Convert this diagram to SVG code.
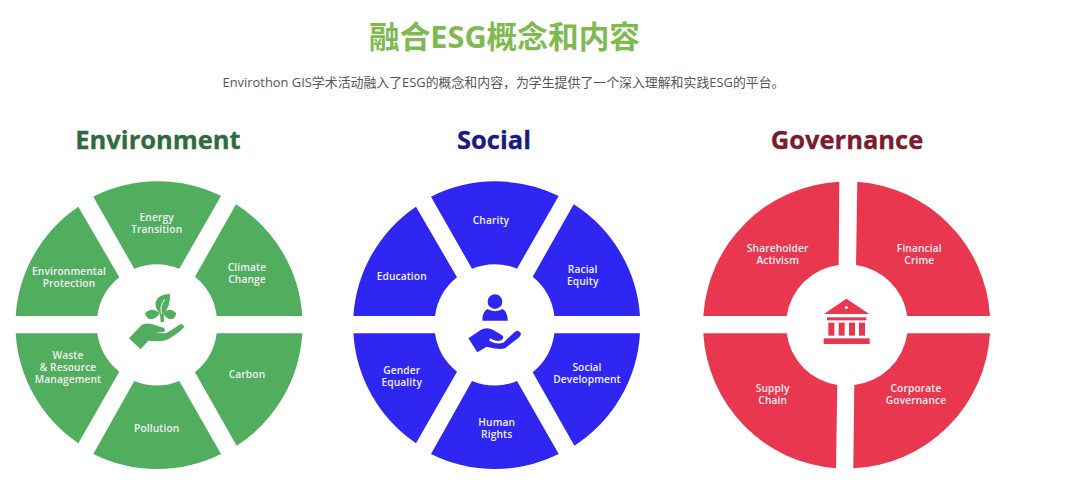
<svg xmlns="http://www.w3.org/2000/svg" width="1080" height="495" viewBox="0 0 1080 495">
<style>
.t{font-family:"Open Sans","Noto Sans CJK SC",sans-serif;text-anchor:middle}
.h{font-family:"Open Sans",sans-serif;font-weight:700;font-size:25.5px;text-anchor:middle;stroke-width:.3px}
.l{font-family:"Open Sans",sans-serif;font-weight:600;font-size:10.2px;text-anchor:middle;fill:#f0f0f4;letter-spacing:.12px}
.g path,.g rect{fill:#52ae5f}
.s path,.s circle.f{fill:#2f26f2}
.r path,.r rect{fill:#e8374f}
.g path.v{fill:none;stroke:#fff;stroke-width:3}
</style>
<defs>
<path id="p-top" d="M-65.7-128.3A143.5 143.5 0 0 1 62-129L20.3-56.3A60 60 0 0 0-24.7-56.3Z"/>
<path id="p-ur" d="M77-120.7A143.5 143.5 0 0 1 143.3-9H57.7A60 60 0 0 0 36-48.3Z"/>
<path id="p-lr" d="M143.3 8.3A143.5 143.5 0 0 1 77.7 120.7L36 47.3A60 60 0 0 0 57.7 8.3Z"/>
<path id="p-bot" d="M62 129A143.5 143.5 0 0 1-65.7 129L-24.7 56A60 60 0 0 0 20.3 56Z"/>
<path id="p-ll" d="M-80.7 118.3A143.5 143.5 0 0 1-143.3 8.3H-61.7A60 60 0 0 0-39.7 46.7Z"/>
<path id="p-ul" d="M-143.3-9A143.5 143.5 0 0 1-80.7-118.3L-39.7-47.7A60 60 0 0 0-61.7-9Z"/>
</defs>
<g id="header">
<text class="t" x="504.500" y="48" font-size="30.700" font-weight="700" fill="#7fba50">融合ESG概念和内容</text>
<text class="t" x="503.500" y="87" font-size="12.900" fill="#555">Envirothon GIS学术活动融入了ESG的概念和内容，为学生提供了一个深入理解和实践ESG的平台。</text>
</g>
<g id="connectors"/>
<g id="environment" class="g">
<text id="env-title" class="h" x="158" y="149" fill="#2f6b3f" stroke="#2f6b3f">Environment</text>
<g id="env-energy"><use href="#p-top" x="159" y="325" fill="#52ae5f"/><text class="l" y="220.700"><tspan x="156.700">Energy</tspan><tspan x="156.700" dy="12">Transition</tspan></text></g>
<g id="env-climate"><use href="#p-ur" x="159" y="325" fill="#52ae5f"/><text class="l" y="271"><tspan x="247">Climate</tspan><tspan x="247" dy="12">Change</tspan></text></g>
<g id="env-carbon"><use href="#p-lr" x="159" y="325" fill="#52ae5f"/><text class="l" x="247" y="378">Carbon</text></g>
<g id="env-pollution"><use href="#p-bot" x="159" y="325" fill="#52ae5f"/><text class="l" x="156.700" y="432">Pollution</text></g>
<g id="env-waste"><use href="#p-ll" x="159" y="325" fill="#52ae5f"/><text class="l" y="359"><tspan x="68">Waste</tspan><tspan x="68" dy="12">&amp; Resource</tspan><tspan x="68" dy="12">Management</tspan></text></g>
<g id="env-protection"><use href="#p-ul" x="159" y="325" fill="#52ae5f"/><text class="l" y="275"><tspan x="69">Environmental</tspan><tspan x="69" dy="12">Protection</tspan></text></g>
<g id="env-icon" transform="translate(110 280) scale(.3333)">
<path d="M57 175L95 135Q110 128 125 132L150 140Q165 142 165 150Q165 156 155 156L138 158L165 160Q175 158 210 133Q222 132 222 142Q200 165 170 180Q150 186 115 182L92 208Z"/>
<path d="M180 42Q145 42 137 65Q134 85 150 100L152 126H162L161 100Q182 80 180 42Z"/>
<path d="M105 100Q125 78 150 100Q135 122 115 116Q107 110 105 100Z"/>
<path d="M199 100Q178 78 160 100Q170 122 190 116Q197 110 199 100Z"/>
<path class="v" d="M155 102Q148 80 164 58"/>
</g>
</g>
<g id="social" class="s">
<text id="soc-title" class="h" x="494" y="149" fill="#1c1a7e" stroke="#1c1a7e">Social</text>
<g id="soc-charity"><use href="#p-top" x="496.700" y="325" fill="#2f26f2"/><text class="l" x="491" y="224.300">Charity</text></g>
<g id="soc-racial"><use href="#p-ur" x="496.700" y="325" fill="#2f26f2"/><text class="l" y="273"><tspan x="582.700">Racial</tspan><tspan x="582.700" dy="12">Equity</tspan></text></g>
<g id="soc-development"><use href="#p-lr" x="496.700" y="325" fill="#2f26f2"/><text class="l" y="371"><tspan x="587">Social</tspan><tspan x="587" dy="12">Development</tspan></text></g>
<g id="soc-rights"><use href="#p-bot" x="496.700" y="325" fill="#2f26f2"/><text class="l" y="426"><tspan x="496.700">Human</tspan><tspan x="496.700" dy="12">Rights</tspan></text></g>
<g id="soc-gender"><use href="#p-ll" x="496.700" y="325" fill="#2f26f2"/><text class="l" y="374"><tspan x="401.700">Gender</tspan><tspan x="401.700" dy="12">Equality</tspan></text></g>
<g id="soc-education"><use href="#p-ul" x="496.700" y="325" fill="#2f26f2"/><text class="l" x="401.700" y="280">Education</text></g>
<g id="soc-icon" transform="translate(450 280) scale(.3333)">
<circle class="f" cx="135" cy="65" r="22"/>
<path d="M97 122Q97 95 112 87Q135 100 158 87Q173 95 173 122Z"/>
<path d="M55 175L92 150Q110 140 130 150L155 165Q165 172 155 180Q140 188 120 175L118 182Q140 195 160 188L195 155Q205 148 213 160Q212 170 200 178L165 205Q150 210 110 200L82 217Z"/>
</g>
</g>
<g id="governance" class="r">
<text id="gov-title" class="h" x="847" y="149" fill="#7a1c2e" stroke="#7a1c2e">Governance</text>
<g id="gov-shareholder"><path d="M703.300 316A143.500 143.500 0 0 1 839.300 181.700L838.700 265A60 60 0 0 0 786.700 316Z"/><text class="l" y="252"><tspan x="777.700">Shareholder</tspan><tspan x="777.700" dy="12">Activism</tspan></text></g>
<g id="gov-financial"><path d="M857.300 181.700A143.500 143.500 0 0 1 990 316H907.300A60 60 0 0 0 856 265Z"/><text class="l" y="252"><tspan x="919.300">Financial</tspan><tspan x="919.300" dy="12">Crime</tspan></text></g>
<g id="gov-corporate"><path d="M990 333.300A143.500 143.500 0 0 1 853.300 468.300L854.300 385A60 60 0 0 0 907.300 333.300Z"/><text class="l" y="392"><tspan x="916">Corporate</tspan><tspan x="916" dy="12">Governance</tspan></text></g>
<g id="gov-supply"><path d="M703.300 333.300A143.500 143.500 0 0 0 836 468.300L837.300 385A60 60 0 0 1 786.700 333.300Z"/><text class="l" y="392"><tspan x="772.700">Supply</tspan><tspan x="772.700" dy="12">Chain</tspan></text></g>
<g id="gov-icon" transform="translate(800 280) scale(.3333)">
<path fill-rule="evenodd" d="M72 102L139 56L208 102ZM144 83A5 4 0 1 0 134 83A5 4 0 1 0 144 83Z"/>
<rect x="81" y="112" width="118" height="9"/>
<rect x="85" y="128" width="18" height="39"/><rect x="116" y="128" width="18" height="39"/><rect x="147" y="128" width="18" height="39"/><rect x="177" y="128" width="18" height="39"/>
<rect x="71" y="175" width="138" height="17"/>
</g>
</g>
</svg>
